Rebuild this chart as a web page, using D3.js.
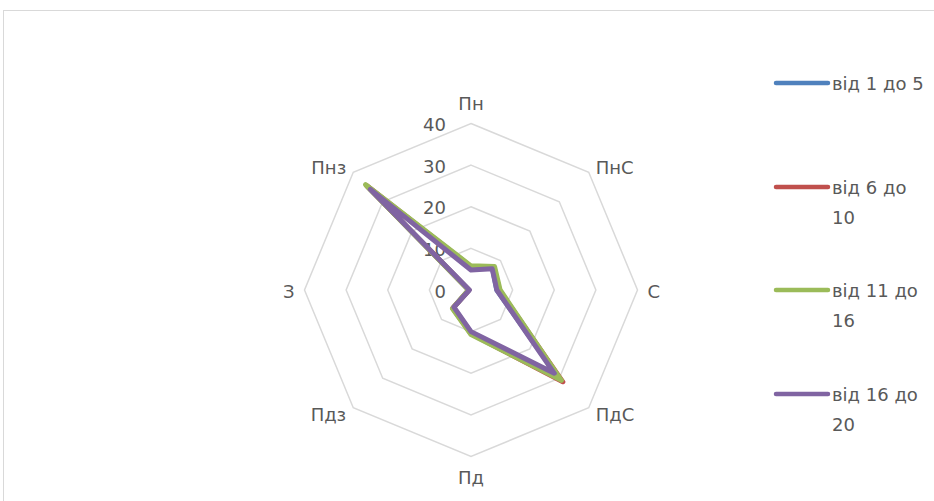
<!DOCTYPE html>
<html><head><meta charset="utf-8">
<script src="https://cdn.jsdelivr.net/npm/d3@7"></script>
<style>html,body{margin:0;padding:0;background:#fff;}svg{display:block;}</style>
</head><body>
<svg id="chart" width="934" height="501"></svg>
<script>
const categories = ["Пн", "ПнС", "С", "ПдС", "Пд", "Пдз", "З", "Пнз"];
const seriesNames = ["від 1 до 5", "від 6 до 10", "від 11 до 16", "від 16 до 20"];
const legendLines = [["від 1 до 5"], ["від 6 до", "10"], ["від 11 до", "16"], ["від 16 до", "20"]];
const blueValues   = [5.3, 7.3, 6.2, 29.5, 10.2, 6.0, 0.5, 35.0];
const redValues    = [5.6, 7.8, 6.8, 31.2, 10.5, 6.2, 0.5, 35.5];
const greenValues  = [5.8, 8.0, 7.0, 30.7, 10.7, 6.3, 0.6, 35.8];
const purpleValues = [4.8, 7.2, 6.2, 28.3, 10.0, 5.8, 0.4, 34.2];
const tickValues = [0, 10, 20, 30, 40];
const colors = ["#4F81BD", "#C0504D", "#9BBB59", "#8064A2"];

const seriesData = [blueValues, redValues, greenValues, purpleValues];
const svg = d3.select("#chart");
const FONT = "'DejaVu Sans', sans-serif";
const TXT = "#595959";
const FS = 18;

// chart border
svg.append("rect").attr("x", 3.5).attr("y", 10.5).attr("width", 940).attr("height", 500)
  .attr("fill", "none").attr("stroke", "#d9d9d9").attr("stroke-width", 1);

const cx = 471, cy = 290, R = 166.5;
const r = d3.scaleLinear().domain([0, 40]).range([0, R]);
const ang = d3.scalePoint().domain(categories).range([0, 2 * Math.PI * (categories.length - 1) / categories.length]);
const g = svg.append("g").attr("transform", `translate(${cx},${cy})`);

const pt = (c, v) => [Math.sin(ang(c)) * r(v), -Math.cos(ang(c)) * r(v)];

// grid rings
tickValues.filter(t => t > 0).forEach(t => {
  g.append("path")
    .attr("d", d3.line()(categories.map(c => pt(c, t))) + "Z")
    .attr("fill", "none").attr("stroke", "#d9d9d9").attr("stroke-width", 1.5);
});

// tick labels
g.selectAll("text.tick").data(tickValues).join("text")
  .attr("class", "tick")
  .attr("x", -25).attr("y", d => -r(d) + 1)
  .attr("text-anchor", "end").attr("dominant-baseline", "central")
  .attr("font-family", FONT).attr("font-size", FS).attr("fill", TXT)
  .text(d => d);

// category labels
categories.forEach(c => {
  const a = ang(c);
  const [vx, vy] = pt(c, 40);
  const s = Math.sin(a), co = Math.cos(a);
  let x = vx, y = vy, anchor = "middle", base = "central";
  if (Math.abs(s) < 0.01) {
    if (co > 0) { y = vy - 14; base = "auto"; }
    else { y = vy + 27; base = "auto"; }
  } else {
    anchor = s > 0 ? "start" : "end";
    x = vx + s * 10;
    y = vy - co * 8 + 1;
  }
  g.append("text").attr("x", x).attr("y", y)
    .attr("text-anchor", anchor).attr("dominant-baseline", base)
    .attr("font-family", FONT).attr("font-size", FS).attr("fill", TXT)
    .text(c);
});

// series
const line = d3.lineRadial()
  .angle((d, i) => ang(categories[i]))
  .radius(d => r(d))
  .curve(d3.curveLinearClosed);
seriesData.forEach((vals, i) => {
  g.append("path").attr("d", line(vals))
    .attr("fill", "none").attr("stroke", colors[i]).attr("stroke-width", 5)
    .attr("stroke-linejoin", "round").attr("stroke-linecap", "round");
});

// legend
const legendY = [83, 187, 290, 394];
const lg = svg.append("g");
seriesNames.forEach((name, i) => {
  lg.append("line").attr("x1", 776).attr("x2", 828).attr("y1", legendY[i]).attr("y2", legendY[i])
    .attr("stroke", colors[i]).attr("stroke-width", 4.5).attr("stroke-linecap", "round");
  const t = lg.append("text").attr("x", 832).attr("y", legendY[i])
    .attr("dominant-baseline", "central")
    .attr("font-family", FONT).attr("font-size", FS).attr("fill", TXT);
  legendLines[i].forEach((ln, j) => {
    t.append("tspan").attr("x", 832).attr("y", legendY[i] + j * 30).text(ln);
  });
});
</script>
</body></html>
